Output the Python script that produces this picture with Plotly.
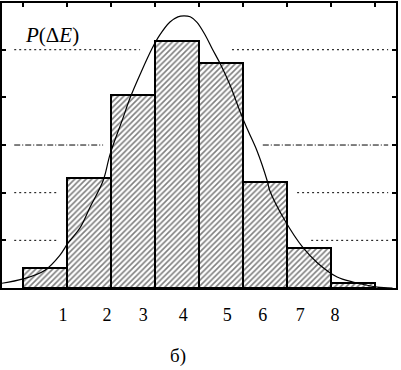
import plotly.graph_objects as go

# Histogram bars: bin index edges (bins span k-1..k), heights in grid units
bar_centers = [0.5, 1.5, 2.5, 3.5, 4.5, 5.5, 6.5, 7.5]
bar_heights = [0.42, 2.31, 4.06, 5.19, 4.73, 2.23, 0.83, 0.10]

# Smooth fitted curve
curve_x = [-0.477, 0.0, 0.5, 0.84, 1.02, 1.30, 1.52, 1.82, 1.98, 2.27, 2.43, 2.66,
           2.93, 3.11, 3.34, 3.52, 3.66, 3.80, 3.95, 4.14, 4.30, 4.48, 4.70, 4.93,
           5.09, 5.32, 5.55, 5.61, 5.95, 6.36, 6.70, 7.14, 7.5, 8.05, 8.4]
curve_y = [0.10, 0.19, 0.375, 0.69, 0.94, 1.27, 1.69, 2.25, 2.81, 3.56, 3.98, 4.48,
           5.02, 5.31, 5.58, 5.69, 5.71, 5.69, 5.58, 5.31, 5.02, 4.71, 4.27, 3.71,
           3.35, 2.875, 2.25, 2.04, 1.42, 0.85, 0.52, 0.23, 0.125, 0.02, 0.0]

# Bottom tick labels and their positions
tick_pos = [0.91, 1.91, 2.73, 3.64, 4.64, 5.45, 6.30, 7.09]
tick_text = ["1", "2", "3", "4", "5", "6", "7", "8"]
top_ticks = [0, 1, 2, 3, 4, 5, 6, 7, 8]
y_ticks = [1, 2, 3, 4, 5]

# Gridline segments: (y, x0, x1, dash)
grid_segments = [
    (5, -0.2, 2.66, "dot"), (5, 4.75, 8.3, "dot"),
    (3, -0.2, 1.82, "dashdot"), (3, 5.45, 8.3, "dashdot"),
    (2, -0.2, 0.8, "dot"), (2, 6.23, 8.3, "dot"),
    (1, -0.2, 0.8, "dot"), (1, 6.55, 8.3, "dot"),
]

XR = [-0.478, 8.478]
YR = [0, 5.98]
SERIF = "Liberation Serif, Times New Roman, serif"

fig = go.Figure()
fig.add_trace(go.Bar(
    x=bar_centers, y=bar_heights, width=1.0,
    marker=dict(color="white", line=dict(color="black", width=2),
                pattern=dict(shape="/", fgcolor="black", bgcolor="white",
                             size=4, solidity=0.4)),
    showlegend=False, hoverinfo="skip"))
fig.add_trace(go.Scatter(
    x=curve_x, y=curve_y, mode="lines", line=dict(color="black", width=1.2, shape="spline"),
    showlegend=False, hoverinfo="skip"))
# invisible trace for top axis
fig.add_trace(go.Scatter(x=[XR[0]], y=[0], xaxis="x2", mode="markers",
                         marker=dict(opacity=0), showlegend=False, hoverinfo="skip"))

dash_map = {"dot": "2px,3px", "dashdot": "6px,2px,1px,2px"}
for (gy, x0, x1, d) in grid_segments:
    fig.add_shape(type="line", xref="x", yref="y", x0=x0, x1=x1, y0=gy, y1=gy,
                  line=dict(color="black", width=1, dash=dash_map[d]), layer="below")

fig.add_annotation(x=0.66, y=5.31, xref="x", yref="y", text="<i>P</i>(Δ<i>E</i>)",
                   showarrow=False, font=dict(family=SERIF, size=21, color="black"))
fig.add_annotation(x=0.446, y=-0.237, xref="paper", yref="paper", text="б)",
                   xanchor="center", yanchor="middle",
                   showarrow=False, font=dict(family=SERIF, size=19, color="black"))

fig.update_layout(
    width=401, height=370,
    margin=dict(l=2, r=5, t=1, b=82),
    paper_bgcolor="white", plot_bgcolor="white",
    bargap=0,
    xaxis=dict(range=XR, showgrid=False, zeroline=False, showline=True, linecolor="black",
               linewidth=2, mirror=True, tickvals=tick_pos, ticktext=tick_text, ticks="",
               tickfont=dict(family=SERIF, size=18, color="black"),
               ticklabelstandoff=9),
    xaxis2=dict(range=XR, overlaying="x", side="top", showgrid=False, zeroline=False,
                tickvals=top_ticks, ticks="inside", ticklen=4, tickwidth=2, tickcolor="black",
                showticklabels=False),
    yaxis=dict(range=YR, showgrid=False, zeroline=False, showline=True, linecolor="black",
               linewidth=2, mirror="ticks", tickvals=y_ticks, ticks="inside", ticklen=4,
               tickwidth=2, tickcolor="black", showticklabels=False),
)

fig.write_html("out.html", config={"displayModeBar": False},
               post_script="document.body.style.margin='0px';")
